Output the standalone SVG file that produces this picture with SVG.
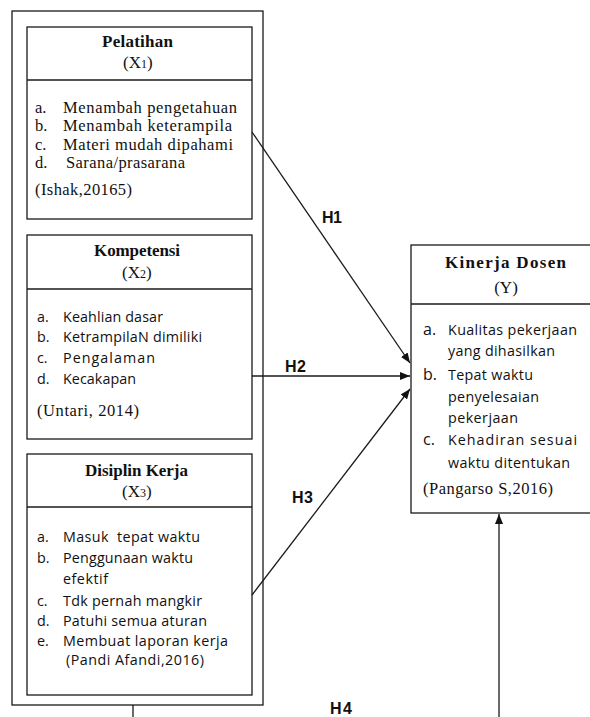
<svg xmlns="http://www.w3.org/2000/svg" width="590" height="717" viewBox="0 0 590 717">
<defs>
<style>
.box{fill:none;stroke:#1a1a1a;stroke-width:1.3}
.ln{fill:none;stroke:#1a1a1a;stroke-width:1.3}
.hd{font-family:"Liberation Serif",serif;font-weight:bold;font-size:17px;fill:#111}
.var{font-family:"Liberation Serif",serif;font-size:17px;fill:#111}
.sr{font-family:"Liberation Serif",serif;font-size:16.5px;fill:#111}
.sn{font-family:"Open Sans",sans-serif;font-size:14.3px;fill:#111}
.snb{font-family:"Open Sans",sans-serif;font-size:16px;fill:#111}
.h{font-family:"Liberation Sans",Arial,sans-serif;font-weight:bold;font-size:16px;fill:#111}
</style>
<marker id="ah" viewBox="0 0 10 8" refX="10" refY="4" markerWidth="10" markerHeight="8" markerUnits="userSpaceOnUse" orient="auto">
<path d="M0,0 L10,4 L0,8 Z" fill="#111"/>
</marker>
</defs>
<rect width="590" height="717" fill="#fff"/>

<g id="outer">
<rect class="box" x="12" y="11" width="251" height="694"/>
</g>

<g id="pelatihan">
<rect class="box" x="27" y="27" width="225" height="192"/>
<line class="ln" x1="27" y1="80" x2="252" y2="80"/>
<text class="hd" x="102" y="47" textLength="71" lengthAdjust="spacing">Pelatihan</text>
<text class="var" x="123" y="68">(X<tspan font-size="12">1</tspan>)</text>
<text class="sr" x="35" y="113">a.</text><text class="sr" x="63" y="113" textLength="174" lengthAdjust="spacing">Menambah pengetahuan</text>
<text class="sr" x="35" y="131">b.</text><text class="sr" x="63" y="131" textLength="169" lengthAdjust="spacing">Menambah keterampila</text>
<text class="sr" x="35" y="150">c.</text><text class="sr" x="63" y="150" textLength="170" lengthAdjust="spacing">Materi mudah dipahami</text>
<text class="sr" x="35" y="168">d.</text><text class="sr" x="66" y="168" textLength="119" lengthAdjust="spacing">Sarana/prasarana</text>
<text class="sr" x="35" y="195" textLength="97" lengthAdjust="spacing">(Ishak,20165)</text>
</g>

<g id="kompetensi">
<rect class="box" x="27" y="235" width="225" height="204"/>
<line class="ln" x1="27" y1="289" x2="252" y2="289"/>
<text class="hd" x="94" y="256" textLength="86" lengthAdjust="spacing">Kompetensi</text>
<text class="var" x="122" y="278">(X<tspan font-size="12">2</tspan>)</text>
<text class="sn" x="37" y="322">a.</text><text class="sn" x="63" y="322" textLength="100" lengthAdjust="spacing">Keahlian dasar</text>
<text class="sn" x="37" y="342">b.</text><text class="sn" x="63" y="342" textLength="139" lengthAdjust="spacing">KetrampilaN dimiliki</text>
<text class="sn" x="37" y="363">c.</text><text class="sn" x="63" y="363" textLength="92" lengthAdjust="spacing">Pengalaman</text>
<text class="sn" x="37" y="384">d.</text><text class="sn" x="63" y="384" textLength="73" lengthAdjust="spacing">Kecakapan</text>
<text class="sr" x="37" y="416" textLength="102" lengthAdjust="spacing">(Untari, 2014)</text>
</g>

<g id="disiplin">
<rect class="box" x="27" y="454" width="225" height="241"/>
<line class="ln" x1="27" y1="507" x2="252" y2="507"/>
<text class="hd" x="85" y="476" textLength="103" lengthAdjust="spacing">Disiplin Kerja</text>
<text class="var" x="122" y="497">(X<tspan font-size="12">3</tspan>)</text>
<text class="sn" x="37" y="542">a.</text><text class="sn" x="63" y="542" textLength="137" lengthAdjust="spacing" xml:space="preserve">Masuk  tepat waktu</text>
<text class="sn" x="37" y="563">b.</text><text class="sn" x="63" y="563" textLength="130" lengthAdjust="spacing">Penggunaan waktu</text>
<text class="sn" x="63" y="584" textLength="45" lengthAdjust="spacing">efektif</text>
<text class="sn" x="37" y="606">c.</text><text class="sn" x="63" y="606" textLength="139" lengthAdjust="spacing">Tdk pernah mangkir</text>
<text class="sn" x="37" y="626">d.</text><text class="sn" x="63" y="626" textLength="144" lengthAdjust="spacing">Patuhi semua aturan</text>
<text class="sn" x="37" y="646">e.</text><text class="sn" x="63" y="646" textLength="165" lengthAdjust="spacing">Membuat laporan kerja</text>
<text class="sn" x="66" y="665" textLength="138" lengthAdjust="spacing">(Pandi Afandi,2016)</text>
</g>

<g id="kinerja">
<rect class="box" x="411" y="245" width="182" height="268"/>
<line class="ln" x1="411" y1="304" x2="593" y2="304"/>
<text class="hd" x="445" y="268" font-size="20.5" textLength="121" lengthAdjust="spacing">Kinerja Dosen</text>
<text class="var" x="506" y="293" font-size="19" text-anchor="middle">(Y)</text>
<text class="snb" x="423" y="335">a.</text><text class="sn" x="448" y="335" textLength="129" lengthAdjust="spacing">Kualitas pekerjaan</text>
<text class="sn" x="448" y="356" textLength="107" lengthAdjust="spacing">yang dihasilkan</text>
<text class="snb" x="423" y="380">b.</text><text class="sn" x="448" y="380" textLength="85" lengthAdjust="spacing">Tepat waktu</text>
<text class="sn" x="448" y="402" textLength="91" lengthAdjust="spacing">penyelesaian</text>
<text class="sn" x="448" y="423" textLength="70" lengthAdjust="spacing">pekerjaan</text>
<text class="snb" x="423" y="445">c.</text><text class="sn" x="448" y="445" textLength="129" lengthAdjust="spacing">Kehadiran sesuai</text>
<text class="sn" x="448" y="468" textLength="122" lengthAdjust="spacing">waktu ditentukan</text>
<text class="sr" x="423" y="494" textLength="130" lengthAdjust="spacing">(Pangarso S,2016)</text>
</g>

<g id="connectors">
<line class="ln" x1="252" y1="132" x2="410" y2="363" marker-end="url(#ah)"/>
<line class="ln" x1="252" y1="376" x2="410" y2="376" marker-end="url(#ah)"/>
<line class="ln" x1="252" y1="595" x2="410" y2="389" marker-end="url(#ah)"/>
<line class="ln" x1="499" y1="717" x2="499" y2="514" marker-end="url(#ah)"/>
<line class="ln" x1="133" y1="705" x2="133" y2="717"/>
<text class="h" x="322" y="223" textLength="20" lengthAdjust="spacing">H1</text>
<text class="h" x="285" y="372" textLength="21" lengthAdjust="spacing">H2</text>
<text class="h" x="292" y="503" textLength="21" lengthAdjust="spacing">H3</text>
<text class="h" x="330" y="714" textLength="22" lengthAdjust="spacing">H4</text>
</g>
</svg>
